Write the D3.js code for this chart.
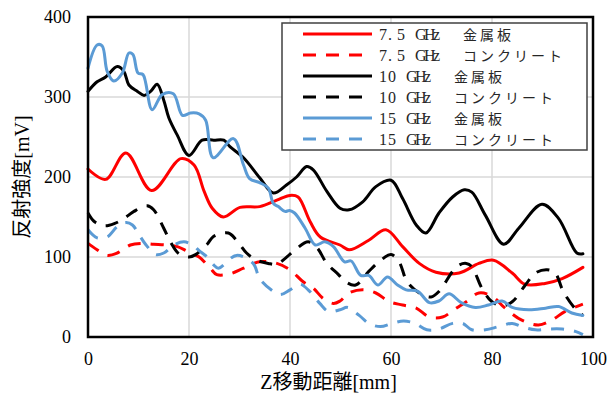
<!DOCTYPE html>
<html>
<head>
<meta charset="utf-8">
<script src="https://cdn.jsdelivr.net/npm/d3@7"></script>
<style>
  body { margin: 0; background: #fff; }
  svg { display: block; }
</style>
</head>
<body>
<div id="chart"></div>
<script>
// values (x in mm, y in mV)
var red75Metal = [[0,210],[3.5,197],[7.5,230],[12.6,183],[18.4,223],[21,215],[23,182],[24.6,161],
  [26.8,150],[30.1,162],[34,163],[37.4,171],[40,177],[41.6,175],[44,144],[46,125],[49.9,115],
  [51.7,109],[55.6,121],[59,134],[62.3,113],[65.6,92],[68.9,81],[73.5,80],[77.4,92],[80.3,96],
  [84,80],[86.5,66],[90.5,67],[93.9,73],[98,87]];
var red75Conc = [[0,117],[1.8,109],[3.8,102],[5.8,105],[8.4,115],[10.4,117],[13,116],[15.7,115],
  [17.7,113],[19.7,107],[22,100],[24.2,86],[25.5,78],[28.1,79],[30.8,86],[34,94],[37.4,92],
  [40,84],[42.6,69],[44.6,61],[46.6,48],[48.6,42],[49.9,45],[51.7,55],[54.4,59],[57,55],
  [59.7,44],[62.3,40],[65,36],[67.6,25],[70.2,25],[72.9,36],[74.9,44],[77.4,55],[80,51],
  [82.6,36],[85.9,21],[89.2,15],[91.8,21],[94.5,32],[98,41]];
var black10Metal = [[0,307],[1.8,319],[3.5,325],[5.8,338],[7.1,332],[8.1,315],[9.8,307],[11.1,302],
  [12.4,307],[13.7,316],[15,296],[16,274],[17.7,252],[20,227],[22.6,246],[24.9,246],[26.9,246],
  [28.1,238],[30.8,224],[34,199],[36.7,180],[39.3,190],[41.3,200],[43.3,213],[44.6,209],
  [47.3,182],[49.9,161],[51.7,159],[54.4,169],[57,188],[60,196],[62.3,173],[65,140],[66.9,130],
  [69.5,155],[72.2,175],[74.5,184],[76,181],[78.7,152],[82.3,116],[85.3,136],[89.9,166],
  [93.2,148],[96.8,105],[98,104]];
var black10Conc = [[0,155],[1.3,144],[3.3,139],[5.3,142],[7.1,148],[9.1,157],[11.7,164],[13,159],
  [15,136],[16.4,118],[18,104],[20,100],[21.3,103],[23.6,116],[24.9,126],[27.8,130],[29.4,121],
  [31.4,105],[33.4,96],[35.7,92],[37.4,91],[39,98],[41,109],[43.6,119],[45.3,112],[47.3,92],
  [49.6,78],[51,69],[53,65],[55.6,82],[57.6,94],[60,103],[61.6,94],[63.2,69],[65.6,55],
  [67.9,50],[69.5,57],[72.2,82],[73.5,90],[74.9,92],[76,88],[78,61],[80,44],[82,39],[84,44],
  [86.6,65],[88.6,80],[90.9,84],[92.5,80],[94.1,57],[96.4,36],[98,27]];
var blue15Metal = [[0,336],[1.8,365],[2.8,364],[3.8,332],[5.1,320],[6.8,330],[8.1,355],[8.9,353],
  [9.9,330],[10.9,328],[12.7,284],[14.7,303],[16.9,304],[18.7,277],[20.3,280],[22,279],
  [23.3,271],[24.8,224],[28.8,248],[30.8,215],[32,198],[34,193],[35.7,186],[36.7,167],
  [37.7,163],[39,157],[39.9,158],[40.9,155],[43,136],[45,115],[46.9,119],[48.6,113],[50.8,94],
  [52.1,95],[54,77],[55.6,77],[57.4,65],[59.3,75],[61.3,65],[63,59],[65.3,57],[67.6,43],
  [69.5,45],[71.5,54],[73.9,43],[76.7,37],[79.3,40],[82,45],[84,37],[87.3,34],[90.6,36],
  [93.2,38],[95.8,30],[98,27]];
var blue15Conc = [[0,134],[1.8,124],[3.8,125],[5.8,138],[7.5,143],[8.8,140],[10.1,128],[11.5,115],
  [13.4,103],[15,105],[17,115],[19,119],[20.7,115],[22,108],[23.6,100],[24.9,90],[25.8,86],
  [29.4,102],[32.7,92],[34,73],[36.7,57],[38.1,53],[40,59],[42,66],[43.9,57],[45.9,42],
  [47.6,32],[49.9,34],[51.4,37],[53.7,27],[55.6,17],[57.9,13],[60.2,17],[62.5,20],[64.8,17],
  [67.1,9],[69.5,10],[72.2,17],[74.2,17],[76,9],[78.7,9],[81.3,13],[84,17],[85.9,13],
  [88.6,9],[91.2,10],[93.9,10],[96.5,7],[98,3]];

var freqLabels = ['7.5 GHz', '7.5 GHz', '10 GHz', '10 GHz', '15 GHz', '15 GHz'];
var materialLabels = ['金属板', 'コンクリート', '金属板', 'コンクリート', '金属板', 'コンクリート'];
var xTicks = [0, 20, 40, 60, 80, 100];
var yTicks = [0, 100, 200, 300, 400];

var series = [
  {values: red75Metal, color: '#ff0000', dashed: false},
  {values: red75Conc, color: '#ff0000', dashed: true},
  {values: black10Metal, color: '#000000', dashed: false},
  {values: black10Conc, color: '#000000', dashed: true},
  {values: blue15Metal, color: '#5b9bd5', dashed: false},
  {values: blue15Conc, color: '#5b9bd5', dashed: true}
];

var width = 614, height = 394;
var margin = {top: 17, right: 21, bottom: 57, left: 88};
var w = width - margin.left - margin.right,
    h = height - margin.top - margin.bottom;

var serif = '"Liberation Serif", "Noto Sans CJK JP", serif';

var svg = d3.select('#chart').append('svg')
    .attr('width', width)
    .attr('height', height);

var g = svg.append('g')
    .attr('transform', 'translate(' + margin.left + ',' + margin.top + ')');

var xScale = d3.scaleLinear().domain([0, 100]).range([0, w]);
var yScale = d3.scaleLinear().domain([0, 400]).range([h, 0]);

// gridlines
g.append('g')
  .selectAll('line')
  .data(xTicks.slice(1, -1))
  .enter().append('line')
    .attr('x1', function(d) { return xScale(d); })
    .attr('x2', function(d) { return xScale(d); })
    .attr('y1', 0).attr('y2', h)
    .attr('stroke', '#d9d9d9').attr('stroke-width', 1.5);

g.append('g')
  .selectAll('line')
  .data(yTicks.slice(1, -1))
  .enter().append('line')
    .attr('y1', function(d) { return yScale(d); })
    .attr('y2', function(d) { return yScale(d); })
    .attr('x1', 0).attr('x2', w)
    .attr('stroke', '#d9d9d9').attr('stroke-width', 1.5);

// axes
var xAxis = g.append('g')
    .attr('transform', 'translate(0,' + h + ')')
    .call(d3.axisBottom(xScale).tickValues(xTicks).tickSize(0).tickPadding(15));
var yAxis = g.append('g')
    .call(d3.axisLeft(yScale).tickValues(yTicks).tickSize(0).tickPadding(17));
[xAxis, yAxis].forEach(function(a) {
  a.select('.domain').remove();
  a.selectAll('text')
    .attr('font-family', serif)
    .attr('font-size', '18px')
    .attr('fill', '#000');
});

// lines
var line = d3.line()
    .x(function(d) { return xScale(d[0]); })
    .y(function(d) { return yScale(d[1]); })
    .curve(d3.curveCatmullRom.alpha(0.5));

g.selectAll('path.series')
    .data(series)
  .enter().append('path')
    .attr('class', 'series')
    .attr('d', function(d) { return line(d.values); })
    .attr('fill', 'none')
    .attr('stroke', function(d) { return d.color; })
    .attr('stroke-width', 3)
    .attr('stroke-linejoin', 'round')
    .attr('stroke-linecap', function(d) { return d.dashed ? 'butt' : 'round'; })
    .attr('stroke-dasharray', function(d) { return d.dashed ? '13,10' : null; });

// plot frame
g.append('rect')
    .attr('width', w)
    .attr('height', h)
    .attr('fill', 'none')
    .attr('stroke', '#000')
    .attr('stroke-width', 2.5);

// legend
var legend = svg.append('g').attr('transform', 'translate(282,23)');
legend.append('rect')
    .attr('width', 305)
    .attr('height', 127)
    .attr('fill', '#fff')
    .attr('stroke', '#404040')
    .attr('stroke-width', 1.5);

var rows = legend.selectAll('.legend')
    .data(series)
  .enter().append('g')
    .attr('class', 'legend')
    .attr('transform', function(d, i) { return 'translate(0,' + (11 + i * 21) + ')'; });

rows.append('line')
    .attr('x1', 21).attr('x2', 90)
    .attr('stroke', function(d) { return d.color; })
    .attr('stroke-width', 3)
    .attr('stroke-dasharray', function(d) { return d.dashed ? '13,10' : null; });

// half-width characters on a fixed 9px grid, like the original font
rows.append('text')
    .attr('x', function(d, i) {
      return freqLabels[i].split('').map(function(c, k) { return 97 + k * 9; }).join(' ');
    })
    .attr('y', 6)
    .attr('font-family', '"Liberation Serif", serif')
    .attr('font-size', '16px')
    .attr('fill', '#262626')
    .text(function(d, i) { return freqLabels[i].replace(' ', '\u00a0'); });

rows.append('text')
    .attr('x', function(d, i) { return 97 + freqLabels[i].length * 9 + 21; })
    .attr('y', 5.5)
    .attr('font-family', '"Noto Sans CJK JP", sans-serif')
    .attr('font-size', '14px')
    .attr('letter-spacing', '3px')
    .attr('fill', '#262626')
    .text(function(d, i) { return materialLabels[i]; });

// axis titles
svg.append('text')
    .attr('x', margin.left + w / 2 - 12)
    .attr('y', 389)
    .attr('text-anchor', 'middle')
    .attr('font-family', serif)
    .attr('font-size', '20px')
    .attr('fill', '#000')
    .text('Z移動距離[mm]');

svg.append('text')
    .attr('transform', 'translate(29,177) rotate(-90)')
    .attr('text-anchor', 'middle')
    .attr('font-family', serif)
    .attr('font-size', '20px')
    .attr('fill', '#000')
    .text('反射強度[mV]');
</script>
</body>
</html>
